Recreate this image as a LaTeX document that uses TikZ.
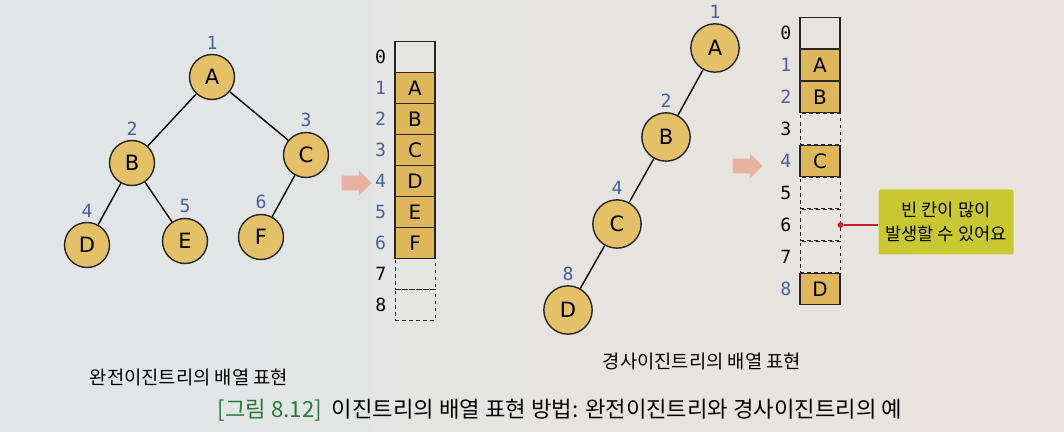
\documentclass[tikz,border=0pt]{standalone}
\usepackage{fontspec}
\setmainfont{Noto Sans CJK KR}
\newfontfamily\idxfont{DejaVu Sans Mono}
\newfontfamily\letterfont{DejaVu Sans}
\usetikzlibrary{positioning,shapes.arrows}
\definecolor{bgleft}{RGB}{224,229,232}
\definecolor{bgright}{RGB}{234,228,220}
\definecolor{nodefill}{RGB}{228,192,105}
\definecolor{cellfill}{RGB}{222,182,92}
\definecolor{idxblue}{RGB}{72,96,156}
\definecolor{notefill}{RGB}{202,200,50}
\definecolor{notered}{RGB}{200,30,40}
\definecolor{arrowpink}{RGB}{232,178,162}
\definecolor{figgreen}{RGB}{40,120,55}
\tikzset{%
        x = 0.03cm,
        y = -0.03cm
}
\tikzstyle{treenode}=[
    circle,
    draw = black!85,
    fill = nodefill,
    minimum size = 1.35cm,
    inner sep = 0pt,
    font = \letterfont\fontsize{18}{20}\selectfont
]
\tikzstyle{bignode}=[
    treenode,
    minimum size = 1.45cm
]
\tikzstyle{num}=[
    text = idxblue,
    font = \idxfont\fontsize{15.5}{17}\selectfont
]
\tikzstyle{cell}=[
    draw = black!85,
    minimum width = 1.2cm,
    minimum height = 0.93cm,
    inner sep = 0pt,
    font = \letterfont\fontsize{17}{19}\selectfont
]
\tikzstyle{fullcell}=[cell, fill = cellfill]
\tikzstyle{emptycell}=[cell, dashed, line width = 0.8pt]
\tikzstyle{bigarrow}=[
    single arrow,
    fill = arrowpink,
    draw = none,
    minimum height = 0.9cm,
    inner xsep = 0pt,
    inner ysep = 0.2cm,
    single arrow head extend = 0.16cm
]
\tikzstyle{caption}=[font = \fontsize{16}{18}\selectfont]

\begin{document}
\begin{tikzpicture}[line width = 1.2pt]
        \shade[left color = bgleft, right color = bgright]
            (0,0) rectangle (1064,432);
        \useasboundingbox (0,0) rectangle (1064,432);

        % complete binary tree
        \node[treenode, label={[num]above:1}] (lA) at (212,77) {A};
        \node[treenode, label={[num]above:2}] (lB) at (132,163) {B};
        \node[treenode, label={[num]above:3}] (lC) at (306,155) {C};
        \node[treenode, label={[num]above:4}] (lD) at (87,245) {D};
        \node[treenode, label={[num]above:5}] (lE) at (185,241) {E};
        \node[treenode, label={[num]above:6}] (lF) at (261,237) {F};
        \draw (lA) -- (lB);
        \draw (lA) -- (lC);
        \draw (lB) -- (lD);
        \draw (lB) -- (lE);
        \draw (lC) -- (lF);

        \node[bigarrow] (arrL) at (353,183) {};

        \foreach \i/\v/\s/\c in {7//emptycell/black, 8//emptycell/black,
                0//cell/black, 1/A/fullcell/idxblue, 2/B/fullcell/idxblue,
                3/C/fullcell/idxblue, 4/D/fullcell/idxblue,
                5/E/fullcell/idxblue, 6/F/fullcell/idxblue} {
            \node[\s] (L\i) at (415,{57+31*\i}) {\v};
            \node[num, text = \c, left = 3pt of L\i] (Li\i) {\i};
        }

        % skewed binary tree
        \node[bignode, label={[num]above:1}] (rA) at (715,48) {A};
        \node[bignode, label={[num]above:2}] (rB) at (666,137) {B};
        \node[bignode, label={[num]above:4}] (rC) at (617,224) {C};
        \node[bignode, label={[num]above:8}] (rD) at (568,310) {D};
        \draw (rA) -- (rB);
        \draw (rB) -- (rC);
        \draw (rC) -- (rD);

        \node[bigarrow] (arrR) at (744,166) {};

        \foreach \i/\v/\s/\c in {3//emptycell/black, 5//emptycell/black,
                6//emptycell/black, 7//emptycell/black,
                0//cell/black, 1/A/fullcell/idxblue, 2/B/fullcell/idxblue,
                4/C/fullcell/idxblue, 8/D/fullcell/idxblue} {
            \node[\s] (R\i) at (820,{33+32*\i}) {\v};
            \node[num, text = \c, left = 3pt of R\i] (Ri\i) {\i};
        }

        \node[fill = notefill, rounded corners = 2pt, align = center,
              minimum width = 4.05cm, minimum height = 1.95cm,
              font = \fontsize{15}{20}\selectfont]
            (note) at (946,222) {빈 칸이 많이\\발생할 수 있어요};
        \node[circle, fill = notered, inner sep = 0pt, minimum size = 5pt]
            (pin) at (R6.east) {};
        \draw[notered] (pin) -- (pin -| note.west);

        % captions
        \node[caption] (capL) at (189,377) {완전이진트리의 배열 표현};
        \node[caption] (capR) at (702,361) {경사이진트리의 배열 표현};
        \node[font = \fontsize{19}{21}\selectfont] (fig) at (560,410)
            {\textcolor{figgreen}{[그림 8.12]}\ \ 이진트리의 배열 표현 방법: 완전이진트리와 경사이진트리의 예};
    \end{tikzpicture}
\end{document}
